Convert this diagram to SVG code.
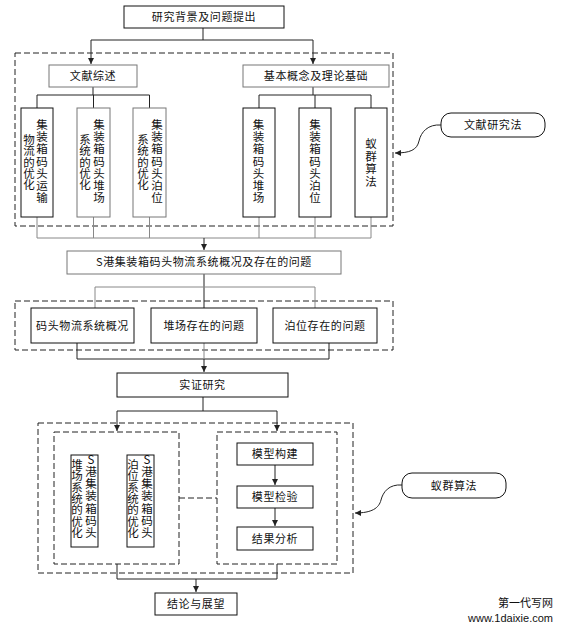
<svg xmlns="http://www.w3.org/2000/svg" width="564" height="631" viewBox="0 0 564 631">
<defs>
<marker id="ah" viewBox="0 0 6 6" refX="6" refY="3" markerWidth="6" markerHeight="6" markerUnits="userSpaceOnUse" orient="auto">
<path d="M0,0 L6,3 L0,6 z" fill="#222"/>
</marker>
</defs>
<style>
.bx{fill:#fff;stroke:#111;stroke-width:1}
.bg{fill:#fff;stroke:#777;stroke-width:1}
.dash{fill:none;stroke:#222;stroke-width:1;stroke-dasharray:6 3}
.ln{fill:none;stroke:#222;stroke-width:1}
.lg{fill:none;stroke:#888;stroke-width:1}
.ar{fill:none;stroke:#222;stroke-width:1;marker-end:url(#ah)}
.t{font-family:"Noto Sans CJK SC","Noto Sans",sans-serif;font-size:11px;fill:#111;text-anchor:middle;letter-spacing:0.6px}
.v{font-family:"Noto Sans CJK SC","Noto Sans",sans-serif;font-size:11.5px;fill:#111;text-anchor:middle}
.w{font-family:"Noto Sans CJK SC","Liberation Sans",sans-serif;font-size:11px;fill:#111;text-anchor:end}
</style>

<g id="groups">
<rect class="dash" x="15" y="53" width="378" height="173"/>
<rect class="dash" x="15" y="301" width="378" height="49"/>
<rect class="dash" x="38" y="423" width="315" height="150"/>
<rect class="dash" x="54" y="432" width="125" height="132"/>
<rect class="dash" x="217" y="432" width="120" height="132"/>
</g>

<g id="connectors">
<path class="ln" d="M203,28 V40 M91,40 H313"/>
<path class="ar" d="M91,40 V64"/>
<path class="ar" d="M313,40 V64"/>
<path class="ln" d="M93,87 V95 M37,95 H149.5 M37,95 V108 M93.5,95 V108 M149.5,95 V108"/>
<path class="ln" d="M313,87 V95 M259,95 H371 M259,95 V108 M315,95 V108 M371,95 V108"/>
<path class="lg" d="M37,217 V238 M93.5,217 V238 M149.5,217 V238 M259,217 V238 M315,217 V238 M371,217 V238 M37,238 H371"/>
<path class="ar" d="M204,238 V250"/>
<path class="ln" d="M204,274 V308"/>
<path class="lg" d="M95,287 H315 M95,287 V308 M315,287 V308"/>
<path class="ln" d="M77,343 V359 M329,343 V359 M77,359 H329"/>
<path class="lg" d="M204,343 V359"/>
<path class="ar" d="M204,359 V372"/>
<path class="ln" d="M203,397 V411 M117,411 H277"/>
<path class="ar" d="M117,411 V431"/>
<path class="ar" d="M277,411 V431"/>
<path class="ar" d="M275,465 V485"/>
<path class="ar" d="M275,508 V526"/>
<path class="dash" d="M179,498 H217"/>
<path class="ln" d="M117,564 V579 M277,564 V579 M117,579 H277"/>
<path class="ar" d="M196,579 V592"/>
<path class="ar" d="M441,125 C428,124 421,132 419,141 C417,150 410,153 395,153"/>
<path class="ar" d="M402,485 C389,484 383,492 381,500 C379,508 372,513 355,513"/>
</g>

<g id="n-top"><rect class="bx" x="124" y="6" width="160" height="22"/><text class="t" x="204" y="21">研究背景及问题提出</text></g>
<g id="n-wxzs"><rect class="bg" x="49" y="65" width="88" height="22"/><text class="t" x="93" y="80">文献综述</text></g>
<g id="n-jbgn"><rect class="bg" x="243" y="65" width="146" height="22"/><text class="t" x="316" y="80">基本概念及理论基础</text></g>

<g id="n-v1"><rect class="bx" x="21" y="108" width="32" height="109"/>
<text class="v" x="42 42 42 42 42 42 42" y="129 141.2 153.4 165.6 177.8 190 202.2">集装箱码头运输</text>
<text class="v" x="29 29 29 29 29" y="144 155.25 166.5 177.75 189">物流的优化</text></g>
<g id="n-v2"><rect class="bg" x="77" y="108" width="33" height="109"/>
<text class="v" x="99 99 99 99 99 99 99" y="129 141.2 153.4 165.6 177.8 190 202.2">集装箱码头堆场</text>
<text class="v" x="85 85 85 85 85" y="144 155.25 166.5 177.75 189">系统的优化</text></g>
<g id="n-v3"><rect class="bg" x="133" y="108" width="33" height="109"/>
<text class="v" x="157 157 157 157 157 157 157" y="129 141.2 153.4 165.6 177.8 190 202.2">集装箱码头泊位</text>
<text class="v" x="143 143 143 143 143" y="144 155.25 166.5 177.75 189">系统的优化</text></g>
<g id="n-v4"><rect class="bx" x="243" y="108" width="32" height="109"/>
<text class="v" x="258.5 258.5 258.5 258.5 258.5 258.5 258.5" y="129 141.2 153.4 165.6 177.8 190 202.2">集装箱码头堆场</text></g>
<g id="n-v5"><rect class="bx" x="299" y="108" width="32" height="109"/>
<text class="v" x="315 315 315 315 315 315 315" y="129 141.2 153.4 165.6 177.8 190 202.2">集装箱码头泊位</text></g>
<g id="n-v6"><rect class="bx" x="355" y="108" width="32" height="109"/>
<text class="v" x="371 371 371 371" y="148 160.5 173 185.5">蚁群算法</text></g>

<g id="n-sgang"><rect class="bg" x="67" y="251" width="274" height="23"/><text class="t" x="204" y="266">S港集装箱码头物流系统概况及存在的问题</text></g>
<g id="n-gk"><rect class="bx" x="31" y="308" width="103" height="35"/><text class="t" x="82.5" y="330">码头物流系统概况</text></g>
<g id="n-dc"><rect class="bx" x="151" y="308" width="106" height="35"/><text class="t" x="204" y="330">堆场存在的问题</text></g>
<g id="n-bw"><rect class="bx" x="273" y="308" width="104" height="35"/><text class="t" x="325" y="330">泊位存在的问题</text></g>
<g id="n-sz"><rect class="bx" x="117" y="373" width="171" height="24"/><text class="t" x="202.5" y="389">实证研究</text></g>

<g id="n-va"><rect class="bx" x="71" y="455" width="27" height="92"/>
<text class="v" x="91 91 91 91 91 91 91" y="464 476 488.2 500.4 512.6 524.8 537">S港集装箱码头</text>
<text class="v" x="77 77 77 77 77 77 77" y="469 480.3 491.6 502.9 514.2 525.5 536.8">堆场系统的优化</text></g>
<g id="n-vb"><rect class="bx" x="127" y="455" width="27" height="92"/>
<text class="v" x="147 147 147 147 147 147 147" y="464 476 488.2 500.4 512.6 524.8 537">S港集装箱码头</text>
<text class="v" x="133 133 133 133 133 133 133" y="469 480.3 491.6 502.9 514.2 525.5 536.8">泊位系统的优化</text></g>

<g id="n-mxgj"><rect class="bx" x="237" y="443" width="76" height="22"/><text class="t" x="275" y="458">模型构建</text></g>
<g id="n-mxjy"><rect class="bx" x="237" y="486" width="76" height="22"/><text class="t" x="275" y="501">模型检验</text></g>
<g id="n-jgfx"><rect class="bx" x="237" y="527" width="76" height="23"/><text class="t" x="275" y="542.5">结果分析</text></g>
<g id="n-jl"><rect class="bx" x="155" y="593" width="82" height="22"/><text class="t" x="196" y="608">结论与展望</text></g>

<g id="n-wxyjf"><rect class="bx" x="441" y="113" width="104" height="24" rx="10"/><text class="t" x="493" y="129">文献研究法</text></g>
<g id="n-yqsf"><rect class="bx" x="402" y="473" width="104" height="25" rx="10"/><text class="t" x="454" y="489.5">蚁群算法</text></g>

<g id="watermark">
<text class="w" x="553" y="607">第一代写网</text>
<text class="w" x="553" y="622" style="font-family:'Liberation Sans',sans-serif">www.1daixie.com</text>
</g>
</svg>
